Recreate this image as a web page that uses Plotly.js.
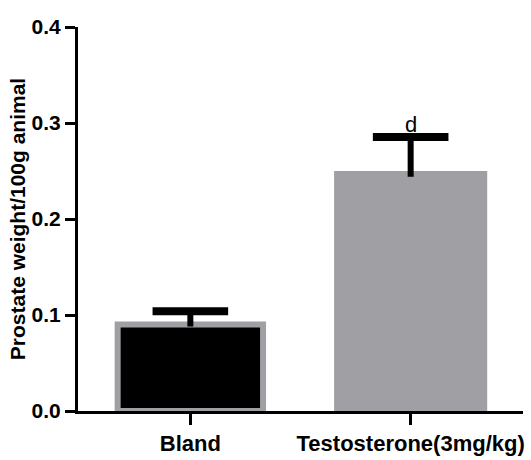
<!DOCTYPE html>
<html>
<head>
<meta charset="utf-8">
<script src="https://cdn.plot.ly/plotly-3.0.1.min.js"></script>
<style>html,body{margin:0;padding:0;background:#fff}#chart{width:531px;height:460px}</style>
</head>
<body>
<div id="chart"></div>
<script>
const categories = ["Bland", "Testosterone(3mg/kg)"];
const means = [0.090, 0.250];
const errPlus = [0.014, 0.0355];
const errMinus = [0.002, 0.006];
const sigLabels = ["", "d"];
const yTickVals = [0.0, 0.1, 0.2, 0.3, 0.4];
const yTickText = ["0.0", "0.1", "0.2", "0.3", "0.4"];

const capY = means.map((m, i) => m + errPlus[i]);
const grey = "#a09fa4";

const bars = {
  type: "bar",
  x: categories,
  y: means,
  width: [0.66, 0.695],
  marker: {
    color: ["#000000", grey],
    line: {color: [grey, grey], width: [6, 0]}
  },
  error_y: {
    type: "data", symmetric: false,
    array: errPlus, arrayminus: errMinus,
    width: 0, thickness: 6, color: "#000000"
  },
  hoverinfo: "none",
  showlegend: false
};

const caps = {
  type: "scatter",
  mode: "markers",
  x: categories,
  y: capY,
  marker: {symbol: "line-ew-open", size: 54, color: "#000000", line: {color: "#000000", width: 8}},
  hoverinfo: "none",
  showlegend: false,
  cliponaxis: false
};

const annotations = categories.map((c, i) => ({
  x: c, y: capY[i], text: sigLabels[i], showarrow: false,
  xanchor: "center", yanchor: "bottom", yshift: -2,
  font: {family: "Liberation Sans, Arial, sans-serif", size: 22, color: "#000"}
})).filter(a => a.text);

const layout = {
  width: 531, height: 460,
  margin: {l: 78, r: 8, t: 27, b: 49, pad: 0},
  paper_bgcolor: "#fff", plot_bgcolor: "#fff",
  font: {family: "Liberation Sans, Arial, sans-serif", color: "#000"},
  xaxis: {
    type: "category", range: [-0.51, 1.51], fixedrange: true,
    showline: true, linewidth: 3, linecolor: "#000",
    ticks: "outside", ticklen: 11, tickwidth: 3, tickcolor: "#000",
    showgrid: false, zeroline: false,
    tickfont: {size: 22, family: "Liberation Sans, Arial, sans-serif", weight: "bold", color: "#000"}
  },
  yaxis: {
    range: [0, 0.4], fixedrange: true,
    tickvals: yTickVals, ticktext: yTickText,
    showline: true, linewidth: 3, linecolor: "#000",
    ticks: "outside", ticklen: 10, tickwidth: 3, tickcolor: "#000",
    showgrid: false, zeroline: false,
    tickfont: {size: 21, family: "Liberation Sans, Arial, sans-serif", weight: "bold", color: "#000"},
    title: {text: "Prostate weight/100g animal", standoff: 1,
            font: {size: 21, family: "Liberation Sans, Arial, sans-serif", weight: "bold", color: "#000"}}
  },
  annotations: annotations,
  bargap: 0.3
};

Plotly.newPlot("chart", [bars, caps], layout, {staticPlot: true, displayModeBar: false});
</script>
</body>
</html>
